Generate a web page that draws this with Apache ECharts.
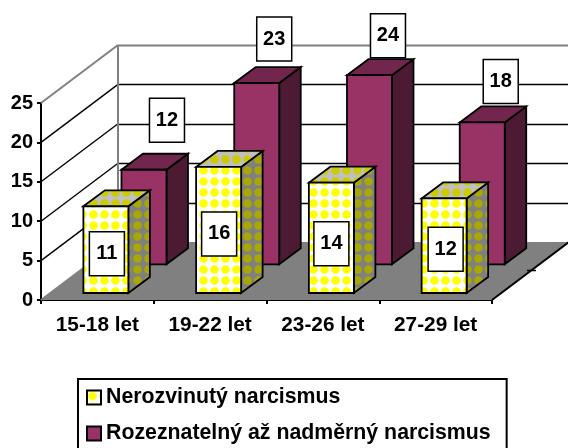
<!DOCTYPE html>
<html><head><meta charset="utf-8">
<style>html,body{margin:0;padding:0;background:#fff;overflow:hidden}#c{width:568px;height:448px}</style>
<script src="https://cdn.jsdelivr.net/npm/echarts@6/dist/echarts.min.js"></script>
</head><body><div id="c"></div>
<script>
const categories = ['15-18 let', '19-22 let', '23-26 let', '27-29 let'];
const nerozvinuty = [11, 16, 14, 12];
const rozeznatelny = [12, 23, 24, 18];
const valueTicks = [0, 5, 10, 15, 20, 25];
const seriesNames = ['Nerozvinutý narcismus', 'Rozeznatelný až nadměrný narcismus'];

const FAMILY = '"Liberation Sans", Arial, sans-serif';
const FONT = 'bold 20px ' + FAMILY;
const WALL = [77, 58];            // depth of the 3D box in pixels
const BAR_DEPTH = [21.5, 16];
const FRONT_OFFSET = [9.3, 7];
const BACK_OFFSET = [47.4, 35.7];
const BAR_W = 45;
const BOX = [35, 44];
const frontNudge = [[1, 4], [0.5, 4], [0, 6], [1.5, 3.5]];
const backNudge = [[23, -49.5], [17.5, -44], [18.5, -39.5], [18.5, -41]];

function tile(bg, fg) {
  const c = document.createElement('canvas');
  c.width = 11; c.height = 11;
  const g = c.getContext('2d');
  g.fillStyle = bg; g.fillRect(0, 0, 11, 11);
  g.fillStyle = fg;
  g.beginPath(); g.arc(5.5, 5.5, 4.3, 0, Math.PI * 2); g.fill();
  return { image: c, repeat: 'repeat' };
}
const patFront = tile('#ffffff', '#ffff00');
const patSide = tile('#808080', '#a8a800');
const patTop = tile('#c0c0c0', '#cccc00');
const purple = ['#993366', '#4d1a33', '#73264d'];

function poly(points, fill, lw) {
  return { type: 'polygon', shape: { points }, style: { fill, stroke: '#000', lineWidth: lw, lineJoin: 'miter' } };
}
function barRender(offset, fills, nudges, labelOnTop) {
  return function (params, api) {
    const i = api.value(0), v = api.value(1);
    const top = api.coord([i, v]), base = api.coord([i, 0]);
    const x0 = top[0] - BAR_W / 2 - 0.8 + offset[0], x1 = x0 + BAR_W;
    const yT = top[1] - offset[1], yB = base[1] - offset[1];
    const [dx, dy] = BAR_DEPTH;
    const lw = 1.8;
    const n = nudges[i];
    const cx = (x0 + x1) / 2 + n[0];
    const cy = (labelOnTop ? yT : (yT + yB) / 2) + n[1];
    return {
      type: 'group',
      children: [
        poly([[x1, yT], [x1 + dx, yT + dy * -1], [x1 + dx, yB - dy], [x1, yB]], fills[1], lw),
        poly([[x0, yT], [x0 + dx, yT - dy], [x1 + dx, yT - dy], [x1, yT]], fills[2], lw),
        poly([[x0, yT], [x1, yT], [x1, yB], [x0, yB]], fills[0], lw),
        { type: 'rect', shape: { x: cx - BOX[0] / 2, y: cy - BOX[1] / 2, width: BOX[0], height: BOX[1] },
          style: { fill: '#fff', stroke: '#000', lineWidth: 1.5 } },
        { type: 'text', style: { x: cx, y: cy, text: String(v), align: 'center', verticalAlign: 'middle', font: FONT, fill: '#000' } }
      ]
    };
  };
}

const chart = echarts.init(document.getElementById('c'), null, { renderer: 'canvas' });
chart.setOption({
  animation: false,
  backgroundColor: '#fff',
  grid: { left: 41, top: 103, width: 451, height: 197, containLabel: false },
  xAxis: {
    type: 'category', data: categories,
    axisLine: { lineStyle: { color: '#000', width: 2 } },
    axisTick: { show: true, length: 4, alignWithLabel: false, lineStyle: { color: '#000', width: 2 } },
    axisLabel: { color: '#000', fontWeight: 'bold', fontSize: 20.8, fontFamily: FAMILY, margin: 15, interval: 0 }
  },
  yAxis: {
    type: 'value', min: 0, max: 25, interval: 5,
    splitLine: { show: false },
    axisLine: { show: true, lineStyle: { color: '#000', width: 2 } },
    axisTick: { show: true, length: 4, lineStyle: { color: '#000', width: 2 } },
    axisLabel: { color: '#000', fontWeight: 'bold', fontSize: 20, fontFamily: FAMILY, margin: 8 }
  },
  legend: {
    orient: 'vertical', left: 78, top: 379, height: 74,
    padding: [8, 16, 8, 8], itemGap: 15, itemWidth: 14, itemHeight: 14,
    borderColor: '#000', borderWidth: 2, backgroundColor: '#fff',
    selectedMode: false,
    textStyle: { color: '#000', fontWeight: 'bold', fontSize: 21.3, fontFamily: FAMILY },
    data: [
      { name: seriesNames[0], icon: 'rect', itemStyle: { color: patFront, borderColor: '#000', borderWidth: 2 } },
      { name: seriesNames[1], icon: 'rect', itemStyle: { color: purple[0], borderColor: '#000', borderWidth: 2 } }
    ]
  },
  series: [
    {
      type: 'custom', coordinateSystem: 'cartesian2d', silent: true, clip: false, z: 1,
      data: valueTicks.map(v => [0, v]),
      renderItem(params, api) {
        const cs = params.coordSys;
        const v = api.value(1);
        const y = api.coord([0, v])[1];
        const x0 = cs.x, xb = cs.x + WALL[0], xr = cs.x + cs.width + WALL[0], yb = y - WALL[1];
        const isTop = v === 25;
        const col = isTop ? '#808080' : '#000';
        const lw = isTop ? 2 : 1.4;
        const kids = [];
        if (v === 0) {
          kids.push({ type: 'polygon', shape: { points: [[x0, y], [xb, yb], [xr, yb], [x0 + cs.width, y]] },
            style: { fill: '#808080', stroke: null } });
          kids.push({ type: 'line', shape: { x1: x0 + cs.width, y1: y, x2: xr, y2: yb }, style: { stroke: '#000', lineWidth: 2 } });
          kids.push({ type: 'line', shape: { x1: x0, y1: y, x2: xb, y2: yb }, style: { stroke: '#808080', lineWidth: 2 } });
          kids.push({ type: 'line', shape: { x1: x0 + cs.width + 35, y1: y - 29.5, x2: x0 + cs.width + 44, y2: y - 29.5 }, style: { stroke: '#000', lineWidth: 1.5 } });
        } else {
          kids.push({ type: 'line', shape: { x1: x0, y1: y, x2: xb, y2: yb }, style: { stroke: col, lineWidth: lw } });
          kids.push({ type: 'line', shape: { x1: xb, y1: Math.round(yb) + 0.5, x2: xr, y2: Math.round(yb) + 0.5 }, style: { stroke: col, lineWidth: lw } });
        }
        if (isTop) {
          kids.push({ type: 'line', shape: { x1: xb, y1: yb, x2: xb, y2: y + 197 - WALL[1] }, style: { stroke: '#808080', lineWidth: 2 } });
        }
        return { type: 'group', children: kids };
      }
    },
    {
      name: seriesNames[1], type: 'custom', coordinateSystem: 'cartesian2d', clip: false, z: 2,
      itemStyle: { color: purple[0] },
      data: rozeznatelny.map((v, i) => [i, v]),
      renderItem: barRender(BACK_OFFSET, purple, backNudge, true)
    },
    {
      name: seriesNames[0], type: 'custom', coordinateSystem: 'cartesian2d', clip: false, z: 3,
      itemStyle: { color: '#ffff00' },
      data: nerozvinuty.map((v, i) => [i, v]),
      renderItem: barRender(FRONT_OFFSET, [patFront, patSide, patTop], frontNudge, false)
    }
  ]
});
</script></body></html>
